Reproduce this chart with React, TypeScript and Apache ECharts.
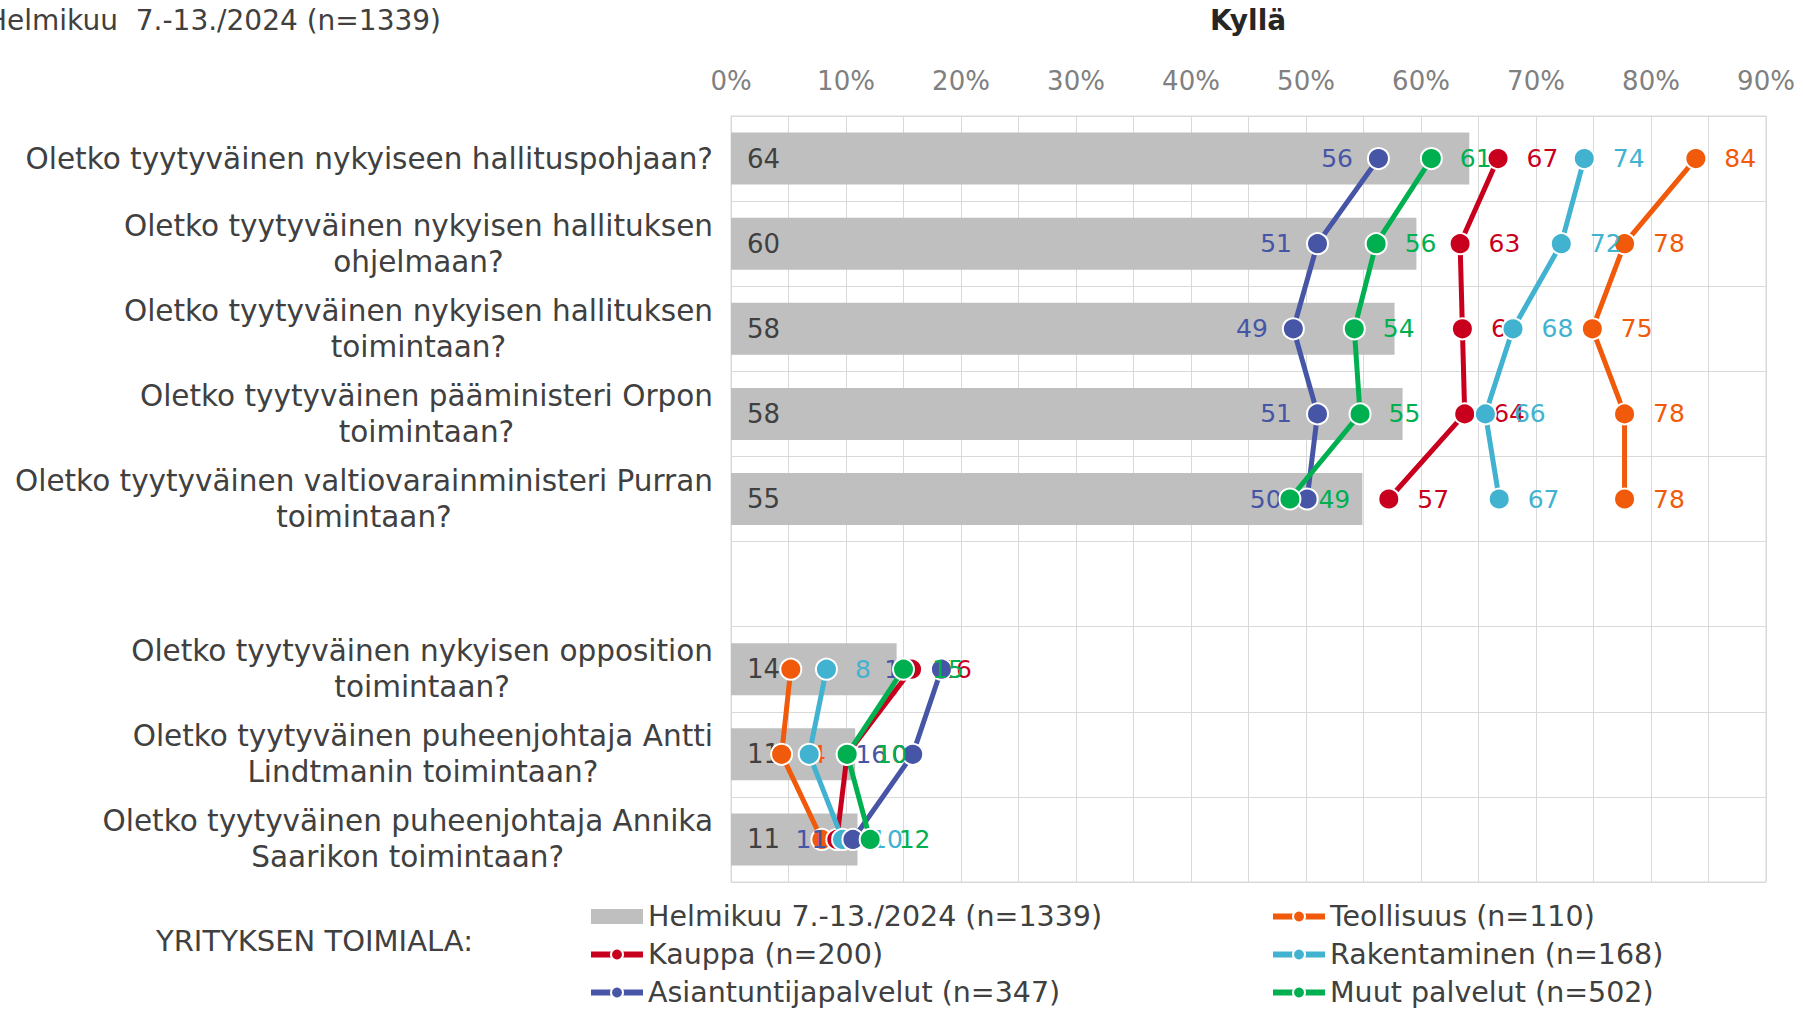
import React, { useEffect, useRef } from "react";
import * as echarts from "echarts";

const FONT = '"DejaVu Sans", Verdana, sans-serif';
const TEXT = "#404040";

const categories = [
  "Oletko tyytyväinen nykyiseen hallituspohjaan?",
  "Oletko tyytyväinen nykyisen hallituksen\nohjelmaan?",
  "Oletko tyytyväinen nykyisen hallituksen\ntoimintaan?",
  "Oletko tyytyväinen pääministeri Orpon\ntoimintaan?",
  "Oletko tyytyväinen valtiovarainministeri Purran\ntoimintaan?",
  "",
  "Oletko tyytyväinen nykyisen opposition\ntoimintaan?",
  "Oletko tyytyväinen puheenjohtaja Antti\nLindtmanin toimintaan?",
  "Oletko tyytyväinen puheenjohtaja Annika\nSaarikon toimintaan?",
];

const xTicks = [0, 10, 20, 30, 40, 50, 60, 70, 80, 90];

const totalName = "Helmikuu 7.-13./2024 (n=1339)";
const totalValues = [64.2, 59.6, 57.7, 58.4, 54.9, null, 14.4, 10.8, 11.0];

const teollisuus = [83.9, 77.7, 74.9, 77.7, 77.7, null, 5.2, 4.4, 7.9];
const kauppa = [66.7, 63.4, 63.6, 63.8, 57.2, null, 15.7, 10.1, 9.2];
const rakentaminen = [74.2, 72.2, 68.0, 65.6, 66.8, null, 8.3, 6.8, 9.7];
const asiantuntija = [56.3, 51.0, 48.9, 51.0, 50.1, null, 18.3, 15.8, 10.6];
const muut = [60.9, 56.1, 54.2, 54.7, 48.6, null, 15.0, 10.1, 12.1];

const lineSeriesDefs = [
  { name: "Teollisuus (n=110)", data: teollisuus, color: "#F15A0A", pos: "right" },
  { name: "Kauppa (n=200)", data: kauppa, color: "#C8001E", pos: "right" },
  { name: "Rakentaminen (n=168)", data: rakentaminen, color: "#41B2D0", pos: "right" },
  { name: "Asiantuntijapalvelut (n=347)", data: asiantuntija, color: "#4655A6", pos: "left" },
  { name: "Muut palvelut (n=502)", data: muut, color: "#00B050", pos: "right" },
];

const legendCommon = {
  orient: "vertical",
  top: 901,
  height: 108,
  padding: 0,
  itemWidth: 52,
  itemHeight: 15,
  itemGap: 7,
  lineStyle: { width: 6 },
  textStyle: { color: TEXT, fontSize: 28.5, fontFamily: FONT, lineHeight: 31 },
};

export default function App() {
  const ref = useRef<HTMLDivElement>(null);
  useEffect(() => {
    document.body.style.margin = "0";
    document.body.style.overflow = "hidden";
    const chart = echarts.init(ref.current!, null, { renderer: "svg" });
    const option: any = {
      animation: false,
      backgroundColor: "#ffffff",
      textStyle: { fontFamily: FONT },
      grid: {
        left: 731,
        right: 37,
        top: 116,
        bottom: 127,
        show: true,
        borderColor: "#D9D9D9",
        borderWidth: 1,
      },
      xAxis: {
        type: "value",
        position: "top",
        min: 0,
        max: 90,
        interval: 5,
        axisLine: { show: false },
        axisTick: { show: false },
        splitLine: { show: true, lineStyle: { color: "#D9D9D9", width: 1 } },
        axisLabel: {
          margin: 22,
          color: "#808080",
          fontSize: 26,
          fontFamily: FONT,
          formatter: (v: number) => (xTicks.includes(v) ? v + "%" : ""),
        },
      },
      yAxis: {
        type: "category",
        inverse: true,
        data: categories,
        axisTick: { show: false },
        axisLine: { show: true, lineStyle: { color: "#D9D9D9" } },
        splitLine: { show: true, interval: 0, lineStyle: { color: "#D9D9D9", width: 1 } },
        axisLabel: {
          interval: 0,
          margin: 18,
          formatter: (v: string) =>
            v ? v.split("\n").map((l) => `{c|${l}}`).join("\n") : "",
          rich: {
            c: {
              align: "center",
              fontSize: 29.5,
              lineHeight: 36,
              color: TEXT,
              fontFamily: FONT,
            },
          },
        },
      },
      legend: [
        {
          ...legendCommon,
          left: 588,
          data: [
            { name: totalName, icon: "rect" },
            "Kauppa (n=200)",
            "Asiantuntijapalvelut (n=347)",
          ],
        },
        {
          ...legendCommon,
          left: 1270,
          data: ["Teollisuus (n=110)", "Rakentaminen (n=168)", "Muut palvelut (n=502)"],
        },
      ],
      graphic: [
        {
          type: "text",
          x: 1248,
          y: 20,
          style: {
            text: "Kyllä",
            fontSize: 28,
            fontWeight: "bold",
            fontFamily: FONT,
            fill: "#262626",
            align: "center",
            verticalAlign: "middle",
          },
        },
        {
          type: "text",
          x: 441,
          y: 20,
          style: {
            text: "Helmikuu  7.-13./2024 (n=1339)",
            fontSize: 28,
            fontFamily: FONT,
            fill: TEXT,
            align: "right",
            verticalAlign: "middle",
          },
        },
        {
          type: "text",
          x: 156,
          y: 941,
          style: {
            text: "YRITYKSEN TOIMIALA:",
            fontSize: 29,
            fontFamily: FONT,
            fill: TEXT,
            align: "left",
            verticalAlign: "middle",
          },
        },
      ],
      series: [
        {
          name: totalName,
          type: "bar",
          data: totalValues.map((v) => (v == null ? "-" : v)),
          barWidth: 52,
          itemStyle: { color: "#BFBFBF" },
          label: {
            show: true,
            position: "insideLeft",
            distance: 16,
            color: TEXT,
            fontSize: 26,
            fontFamily: FONT,
            formatter: (p: any) => String(Math.round(p.value)),
          },
          z: 1,
        },
        ...lineSeriesDefs.map((s, i) => ({
          name: s.name,
          type: "line",
          data: s.data.map((v) => (v == null ? "-" : v)),
          connectNulls: false,
          symbol: "circle",
          symbolSize: 21,
          showAllSymbol: true,
          lineStyle: { color: s.color, width: 5 },
          itemStyle: { color: s.color, borderColor: "#ffffff", borderWidth: 2 },
          label: {
            show: true,
            position: s.pos,
            distance: s.pos === "left" ? 14 : 17,
            color: s.color,
            fontSize: 25,
            fontFamily: FONT,
            formatter: (p: any) => String(Math.round(p.value)),
          },
          z: 2 + i,
        })),
      ],
    };
    chart.setOption(option);
    return () => chart.dispose();
  }, []);
  return <div ref={ref} style={{ width: 1803, height: 1009 }} />;
}
